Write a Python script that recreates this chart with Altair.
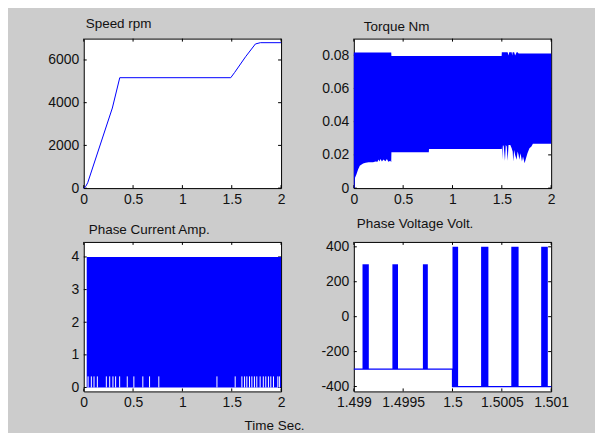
import altair as alt
import pandas as pd

# ---------------- data ----------------
speed_t = [0, 0.02, 0.04, 0.29, 0.365, 1.49, 1.53, 1.64, 1.74, 1.79, 2.0]
speed_v = [0, 80, 250, 3750, 5170, 5170, 5420, 6150, 6750, 6810, 6810]

torque_t = [0.000, 0.008, 0.010, 0.027, 0.044, 0.054, 0.060, 0.094, 0.120, 0.150,
            0.195, 0.220, 0.240, 0.250, 0.260, 0.270, 0.285, 0.300, 0.320, 0.335,
            0.350, 0.370, 0.379, 0.381, 0.760, 0.762, 1.498, 1.500, 1.503, 1.507,
            1.512, 1.520, 1.532, 1.540, 1.550, 1.559, 1.568, 1.575, 1.586, 1.600,
            1.605, 1.610, 1.616, 1.625, 1.635, 1.650, 1.660, 1.670, 1.677, 1.690,
            1.704, 1.715, 1.731, 1.745, 1.760, 1.780, 1.800, 1.815, 2.000]
torque_lo = [0.0, 0.0, 0.006, 0.0084, 0.0114, 0.0125, 0.0134, 0.0148, 0.0152, 0.0155,
             0.0155, 0.0160, 0.0158, 0.0172, 0.0160, 0.0175, 0.0160, 0.0172, 0.0162, 0.0175,
             0.0158, 0.0165, 0.0155, 0.0216, 0.0216, 0.0236, 0.0236, 0.0236, 0.0260, 0.0170,
             0.0260, 0.0250, 0.0165, 0.0260, 0.0250, 0.0165, 0.0260, 0.0260, 0.0260, 0.0240,
             0.0230, 0.0220, 0.0160, 0.0230, 0.0200, 0.0170, 0.0220, 0.0200, 0.0170, 0.0210,
             0.0160, 0.0190, 0.0150, 0.0180, 0.0210, 0.0240, 0.0250, 0.0267, 0.0267]
torque_hi = [0.0817] * 23 + [0.0796] * 4 + [0.0818] * 9 + [0.0798, 0.0818, 0.0818, 0.0818,
             0.0798, 0.0818, 0.0818, 0.0818, 0.0798, 0.0818, 0.0818] + [0.0810] * 12

current_t = [0.03, 2.0]
current_lo = [0.0, 0.0]
current_hi = [4.0, 4.0]
current_gap_t = [0.044, 0.077, 0.104, 0.138, 0.229, 0.263, 0.296, 0.323, 0.364, 0.441,
                 0.508, 0.599, 0.667, 0.761, 1.35, 1.535, 1.603, 1.63, 1.653, 1.68,
                 1.704, 1.73, 1.754, 1.788, 1.82, 1.845, 1.872, 1.896, 1.923, 1.967, 1.983]
current_gap_top = 0.34

volt_start = [1.499088, 1.499391, 1.4997, 1.5000, 1.50029, 1.500596, 1.500899]
volt_end = [1.499152, 1.499448, 1.49975, 1.500057, 1.500364, 1.50067, 1.500966]
volt_low = [-300, -300, -300, -400, -400, -400, -400]
volt_high = [300, 300, 300, 400, 400, 400, 400]
volt_line_t = [1.499, 1.5, 1.5, 1.501]
volt_line_v = [-300, -300, -400, -400]

titles = ["Speed rpm", "Torque Nm", "Phase Current Amp.", "Phase Voltage Volt."]
xlabel = "Time Sec."
x_ticks = [0, 0.5, 1, 1.5, 2]
volt_x_ticks = [1.499, 1.4995, 1.5, 1.5005, 1.501]
speed_y_ticks = [0, 2000, 4000, 6000]
torque_y_ticks = [0, 0.02, 0.04, 0.06, 0.08]
current_y_ticks = [0, 1, 2, 3, 4]
volt_y_ticks = [-400, -200, 0, 200, 400]

# ---------------- style ----------------
FONT = "Liberation Sans"
BLUE = "#0000ff"
W, H = 198, 150
TL = 3  # inward tick length


def axis(vals, fmt=None, expr=None, pad=4, **kw):
    d = dict(values=vals, title=None, grid=False, domain=False, ticks=False,
             labelFont=FONT, labelFontSize=14, labelColor="#111111",
             labelPadding=pad, labelOverlap=False, labelFlush=False)
    if fmt is not None:
        d["format"] = fmt
    if expr is not None:
        d["labelExpr"] = expr
    d.update(kw)
    return alt.Axis(**d)


def tick_layers(xvals, yvals, xs, ys, xa, ya):
    xt = pd.DataFrame({"tv": xvals})
    yt = pd.DataFrame({"tv": yvals})
    bx = alt.Chart(xt).mark_rule(color="black", strokeWidth=1)
    by = alt.Chart(yt).mark_rule(color="black", strokeWidth=1)
    return [
        bx.encode(x=alt.X("tv:Q", scale=xs, axis=xa), y=alt.value(0), y2=alt.value(TL)),
        bx.encode(x=alt.X("tv:Q", scale=xs, axis=xa), y=alt.value(H), y2=alt.value(H - TL)),
        by.encode(y=alt.Y("tv:Q", scale=ys, axis=ya), x=alt.value(0), x2=alt.value(TL)),
        by.encode(y=alt.Y("tv:Q", scale=ys, axis=ya), x=alt.value(W), x2=alt.value(W - TL)),
    ]


def title(text, dx, dy):
    return alt.TitleParams(text=text, anchor="start", frame="group", dx=dx, dy=dy, offset=0,
                           baseline="alphabetic", font=FONT, fontSize=13.5,
                           fontWeight="normal", color="#111111")


# ---------------- panel 1: speed ----------------
sx1 = alt.Scale(domain=[0, 2], nice=False, zero=False)
sy1 = alt.Scale(domain=[0, 7000], nice=False, zero=False)
xa1 = axis(x_ticks, fmt="~g")
ya1 = axis(speed_y_ticks, fmt="d", pad=5)
speed_df = pd.DataFrame({"t": speed_t, "v": speed_v})
speed = alt.Chart(speed_df).mark_line(color=BLUE, strokeWidth=1).encode(
    x=alt.X("t:Q", scale=sx1, axis=xa1),
    y=alt.Y("v:Q", scale=sy1, axis=ya1),
)
p1 = alt.layer(*tick_layers(x_ticks, speed_y_ticks, sx1, sy1, xa1, ya1), speed).properties(
    width=W, height=H, title=title(titles[0], 2, 3))

# ---------------- panel 2: torque ----------------
sx2 = alt.Scale(domain=[0, 2], nice=False, zero=False)
sy2 = alt.Scale(domain=[0, 0.09], nice=False, zero=False)
xa2 = axis(x_ticks, fmt="~g")
ya2 = axis(torque_y_ticks, fmt="~g", pad=5)
torque_df = pd.DataFrame({"t": torque_t, "lo": torque_lo, "hi": torque_hi})
torque = alt.Chart(torque_df).mark_area(color=BLUE, opacity=1).encode(
    x=alt.X("t:Q", scale=sx2, axis=xa2),
    y=alt.Y("lo:Q", scale=sy2, axis=ya2),
    y2="hi:Q",
)
p2 = alt.layer(*tick_layers(x_ticks, torque_y_ticks, sx2, sy2, xa2, ya2), torque).properties(
    width=W, height=H, title=title(titles[1], 10, 6.5))

# ---------------- panel 3: current ----------------
sx3 = alt.Scale(domain=[0, 2], nice=False, zero=False)
sy3 = alt.Scale(domain=[-0.12, 4.46], nice=False, zero=False)
xa3 = axis(x_ticks, fmt="~g", title=xlabel, titleX=191, titleY=38,
           titleAlign="center", titleBaseline="alphabetic",
           titleFont=FONT, titleFontSize=13.5, titleFontWeight="normal",
           titleColor="#111111")
ya3 = axis(current_y_ticks, fmt="d", pad=5)
cur_df = pd.DataFrame({"t": current_t, "lo": current_lo, "hi": current_hi})
gap_df = pd.DataFrame({"t": current_gap_t, "lo": [0.0] * len(current_gap_t),
                       "hi": [current_gap_top] * len(current_gap_t)})
cur_area = alt.Chart(cur_df).mark_area(color=BLUE, opacity=1).encode(
    x=alt.X("t:Q", scale=sx3, axis=xa3),
    y=alt.Y("lo:Q", scale=sy3, axis=ya3),
    y2="hi:Q",
)
cur_gaps = alt.Chart(gap_df).mark_rule(color="white", strokeWidth=1).encode(
    x=alt.X("t:Q", scale=sx3, axis=xa3), y=alt.Y("lo:Q", scale=sy3, axis=ya3), y2="hi:Q")
p3 = alt.layer(*tick_layers(x_ticks, current_y_ticks, sx3, sy3, xa3, ya3), cur_area, cur_gaps).properties(
    width=W, height=H, title=title(titles[2], 5, 6))

# ---------------- panel 4: voltage ----------------
sx4 = alt.Scale(domain=[1.499, 1.501], nice=False, zero=False)
sy4 = alt.Scale(domain=[-428, 428], nice=False, zero=False)
neg_expr = "datum.value < 0 ? '-' + format(abs(datum.value), 'd') : format(datum.value, 'd')"
xa4 = axis(volt_x_ticks, fmt=".4~f")
ya4 = axis(volt_y_ticks, expr=neg_expr, pad=5)
pulse_df = pd.DataFrame({"s": volt_start, "e": volt_end, "lo": volt_low, "hi": volt_high})
vline_df = pd.DataFrame({"t": volt_line_t, "v": volt_line_v, "i": list(range(len(volt_line_t)))})
pulses = alt.Chart(pulse_df).mark_rect(color=BLUE, opacity=1).encode(
    x=alt.X("s:Q", scale=sx4, axis=xa4),
    x2="e:Q",
    y=alt.Y("lo:Q", scale=sy4, axis=ya4),
    y2="hi:Q",
)
vline = alt.Chart(vline_df).mark_line(color=BLUE, strokeWidth=1.2).encode(
    x=alt.X("t:Q", scale=sx4, axis=xa4), y=alt.Y("v:Q", scale=sy4, axis=ya4), order="i:Q")
p4 = alt.layer(*tick_layers(volt_x_ticks, volt_y_ticks, sx4, sy4, xa4, ya4), pulses, vline).properties(
    width=W, height=H, title=title(titles[3], 3, 1.5))

chart = alt.concat(p1, p2, p3, p4, columns=2, spacing={"row": 54, "column": 73},
                   bounds="flush").properties(
    padding={"left": 39, "top": 7, "right": 25, "bottom": 0},
    background="#cccccc",
).configure_view(fill="white", stroke="black", strokeWidth=1)

chart.save("out.html", embed_options={"renderer": "svg", "actions": False})
